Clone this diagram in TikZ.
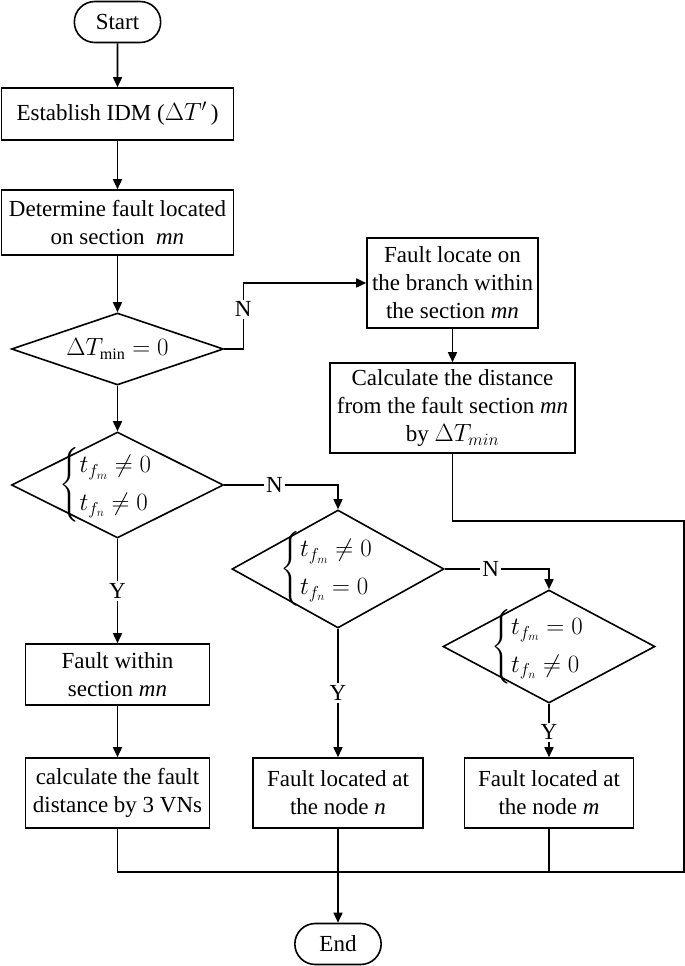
\documentclass[tikz,border=0pt]{standalone}
\usepackage{amsmath}
\usepackage{fontspec}
\setmainfont{Liberation Serif}
\usetikzlibrary{
  positioning,
  shapes.misc,
  shapes.geometric,
  arrows.meta
}

\begin{document}
\begin{tikzpicture}[x=1pt, y=1pt, line width=1.6pt,
	font=\fontsize{23}{28}\selectfont,
	box/.style={draw, rectangle, align=center, inner sep=1pt},
	term/.style={draw, rounded rectangle, minimum width=93pt, minimum height=41pt},
	decision/.style={draw, diamond, inner sep=0pt, minimum width=212pt},
	flow/.style={-{Triangle[length=10pt, width=9pt]}},
	yn/.style={fill=white, inner sep=2pt}]

	    \useasboundingbox (0,0) rectangle (685,-966);

	    % left column
	    \node[term] (start) at (117.5,-22) {Start};
	    \node[box, minimum width=232pt, minimum height=52pt] (idm) at (117.5,-114)
	        {Establish IDM ($\Delta T^{\prime}$\,)};
	    \node[box, minimum width=232pt, minimum height=65pt] (det) at (117.5,-222.5)
	        {Determine fault located\\on section~~\textit{mn}};
	    \node[decision, minimum height=72pt, aspect=2.9] (d1) at (117.5,-349)
	        {$\Delta T_{\min} = 0$};
	    \node[decision, minimum height=106pt,
	        label={center:$\begin{cases} t_{f_m} \neq 0 \\[4pt] t_{f_n} \neq 0 \end{cases}$}]
	        (d2) at (117.5,-485) {};
	    \node[box, minimum width=184pt, minimum height=61pt] (within) at (117.5,-674.5)
	        {Fault within\\section \textit{mn}};
	    \node[box, minimum width=184pt, minimum height=70pt] (calc3) at (117.5,-793)
	        {calculate the fault\\distance by 3 VNs};

	    % upper right branch
	    \node[box, minimum width=171pt, minimum height=90pt] (floc) at (452.5,-283)
	        {Fault locate on\\the branch within\\the section \textit{mn}};
	    \node[box, minimum width=245pt, minimum height=90pt] (calcd) at (452.5,-408)
	        {Calculate the distance\\from the fault section \textit{mn}\\by $\Delta T_{min}$};

	    % middle and right columns
	    \node[decision, minimum height=118pt,
	        label={center:$\begin{cases} t_{f_m} \neq 0 \\[4pt] t_{f_n} = 0 \end{cases}$}]
	        (d3) at (338,-569) {};
	    \node[box, minimum width=170pt, minimum height=70pt] (atn) at (338,-793)
	        {Fault located at\\the node \textit{n}};
	    \node[decision, minimum height=113pt,
	        label={center:$\begin{cases} t_{f_m} = 0 \\[4pt] t_{f_n} \neq 0 \end{cases}$}]
	        (d4) at (549,-646.5) {};
	    \node[box, minimum width=169pt, minimum height=70pt] (atm) at (549,-793)
	        {Fault located at\\the node \textit{m}};
	    \node[term] (end) at (338,-944) {End};

	    \coordinate (rc) at (684,-521);
	    \coordinate (jn) at (338,-872);

	    % main flow
	    \draw[flow] (start) -- (idm);
	    \draw[flow] (idm) -- (det);
	    \draw[flow] (det) -- (d1);
	    \draw[flow] (d1) -- (d2);
	    \draw[flow] (d2) -- node[yn] {Y} (within);
	    \draw[flow] (within) -- (calc3);

	    % N branches
	    \draw[flow] (d1.east) -- ++(19,0) |- node[yn, pos=0.3] {N} (floc.west);
	    \draw[flow] (floc) -- (calcd);
	    \draw[flow] (d2.east) -| node[yn, pos=0.22] {N} (d3.north);
	    \draw[flow] (d3.east) -| node[yn, pos=0.22] {N} (d4.north);
	    \draw[flow] (d3) -- node[yn] {Y} (atn);
	    \draw[flow] (d4) -- node[yn, pos=0.53] {Y} (atm);

	    % merge to end
	    \draw (calcd) |- (rc) |- (jn);
	    \draw (calc3) |- (jn);
	    \draw (atm) |- (jn);
	    \draw[flow] (atn) -- (end);

	\end{tikzpicture}
\end{document}
